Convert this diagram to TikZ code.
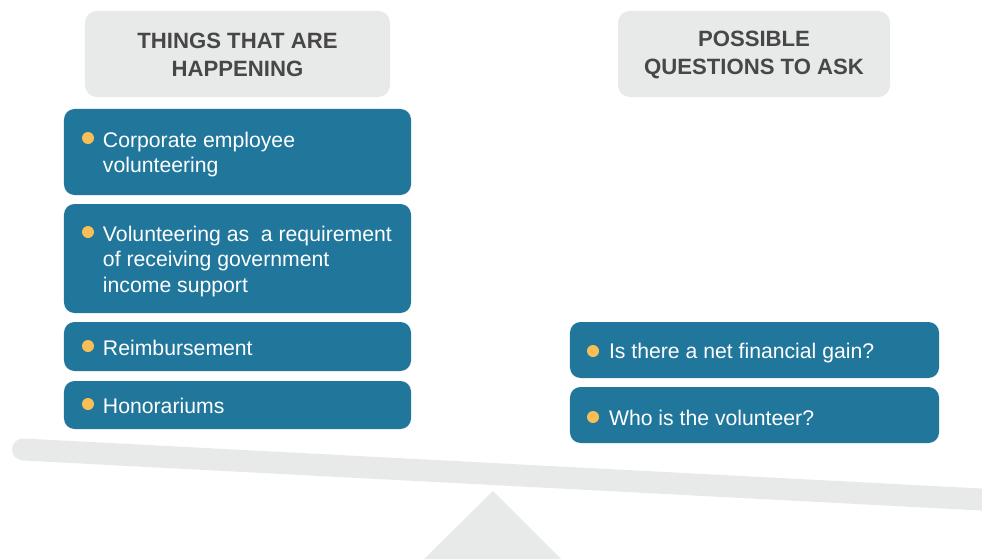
\documentclass[tikz,border=0pt]{standalone}
\usepackage{fontspec}
\setmainfont{Liberation Sans}
\usepackage{xcolor}
\definecolor{panelgray}{HTML}{E8E9E9}
\definecolor{itemblue}{HTML}{21779B}
\definecolor{dotyellow}{HTML}{F9BF57}
\definecolor{headgray}{HTML}{474747}

\begin{document}
\begin{tikzpicture}[x=0.03cm,y=-0.03cm]
	 \tikzstyle{header}=[rectangle,rounded corners=10pt,fill=panelgray,text=headgray,align=center,font=\fontsize{18.9}{23.8}\selectfont\bfseries]
	 \tikzstyle{panel}=[rectangle,rounded corners=9pt,fill=itemblue,inner sep=0pt]
	 \tikzstyle{item}=[anchor=west,inner sep=0pt,text=white,align=left,font=\fontsize{18.1}{21.7}\selectfont]
	 \tikzstyle{dot}=[circle,fill=dotyellow,minimum size=0.36cm,inner sep=0pt]
	 \tikzstyle{lever}=[panelgray,line width=0.66cm,line cap=round]

	 \useasboundingbox (0,0) rectangle (982,559);

	 % seesaw
	 \draw[lever] (23,449.5) -- (1010,501);
	 \fill[panelgray] (424,559) -- (493,491) -- (561,559) -- cycle;

	 % headers
	 \node[header,minimum width=9.15cm,minimum height=2.58cm,text height=39pt] (hdrL) at (237.5,54) {THINGS THAT ARE\\HAPPENING};
	 \node[header,minimum width=8.16cm,minimum height=2.58cm,text height=39pt] (hdrR) at (754,54) {POSSIBLE\\QUESTIONS TO ASK};

	 % left column
	 \node[panel,minimum width=10.41cm,minimum height=2.58cm] (b1) at (237.5,152) {};
	 \node[panel,minimum width=10.41cm,minimum height=3.27cm] (b2) at (237.5,258.5) {};
	 \node[panel,minimum width=10.41cm,minimum height=1.47cm] (b3) at (237.5,346.5) {};
	 \node[panel,minimum width=10.41cm,minimum height=1.44cm] (b4) at (237.5,405) {};

	 % right column
	 \node[panel,minimum width=11.07cm,minimum height=1.68cm] (b5) at (754.5,350) {};
	 \node[panel,minimum width=11.07cm,minimum height=1.68cm] (b6) at (754.5,415) {};

	 \node[item] (t1) at ([xshift=1.17cm,yshift=-0.07cm]b1.west) {Corporate employee\\volunteering};
	 \node[item] (t2) at ([xshift=1.17cm,yshift=-0.08cm]b2.west) {Volunteering as~ a requirement\\of receiving government\\income support};
	 \node[item] (t3) at ([xshift=1.17cm,yshift=-0.03cm]b3.west) {Reimbursement};
	 \node[item] (t4) at ([xshift=1.17cm,yshift=-0.02cm]b4.west) {Honorariums};
	 \node[item] (t5) at ([xshift=1.17cm,yshift=-0.1cm]b5.west) {Is there a net financial gain?};
	 \node[item] (t6) at ([xshift=1.17cm,yshift=-0.08cm]b6.west) {Who is the volunteer?};

	 \node[dot] (d1) at (88,138) {};
	 \node[dot] (d2) at (88,232) {};
	 \node[dot] (d3) at (88,346) {};
	 \node[dot] (d4) at (88,404) {};
	 \node[dot] (d5) at (593,351) {};
	 \node[dot] (d6) at (593,417) {};
\end{tikzpicture}
\end{document}
